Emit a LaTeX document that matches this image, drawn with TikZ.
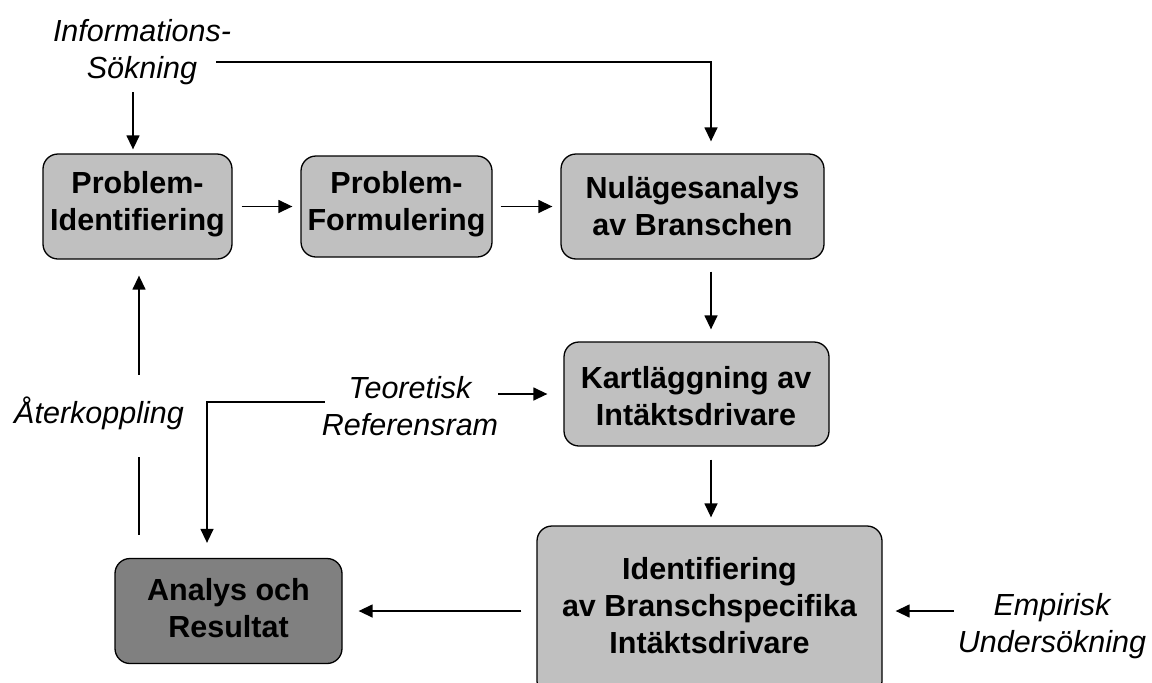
\documentclass[tikz,border=0pt]{standalone}
\usepackage{fontspec}
\setmainfont{Liberation Sans}
\usetikzlibrary{calc,arrows.meta}
\definecolor{boxgray}{HTML}{C0C0C0}
\definecolor{boxdark}{HTML}{808080}
\tikzset{
  box/.style={draw=black, line width=1.3pt, rounded corners=15pt, fill=boxgray, inner sep=0pt},
  boxtext/.style={align=center, inner sep=0pt, font=\fontsize{30.5}{37}\selectfont\bfseries},
  lbl/.style={align=center, inner sep=0pt, font=\fontsize{30.5}{37}\selectfont\itshape},
  arr/.style={line width=1.4pt, -{Triangle[length=14pt,width=13pt]}},
  ln/.style={line width=1.4pt},
}
\begin{document}
\begin{tikzpicture}[x=1pt,y=-1pt]
\useasboundingbox (0,0) rectangle (1152,683);
\fill[white] (0,0) rectangle (1152,683);
\clip (0,0) rectangle (1152,683);

% boxes
\node[box, minimum width=189pt, minimum height=105pt] (b1) at (137.5,206.5) {};
\node[box, minimum width=191pt, minimum height=101pt] (b2) at (396.5,206.5) {};
\node[box, minimum width=263pt, minimum height=105pt] (b3) at (692.5,206.5) {};
\node[box, minimum width=265pt, minimum height=104pt] (b4) at (696.5,394) {};
\node[box, minimum width=345pt, minimum height=170pt] (b5) at (709.5,611) {};
\node[box, fill=boxdark, minimum width=227pt, minimum height=105pt] (b6) at (228.5,611) {};

% box texts
\node[boxtext] (t1) at (137.5,204.1) {\strut Problem-\\\strut Identifiering};
\node[boxtext] (t2) at (396.5,205) {\strut Problem-\\\strut Formulering};
\node[boxtext] (t3) at (692.5,209.1) {\strut Nulägesanalys\\\strut av Branschen};
\node[boxtext] (t4) at (696,399.1) {\strut Kartläggning av\\\strut Intäktsdrivare};
\node[boxtext] (t5) at (709.5,608.6) {\strut Identifiering\\\strut av Branschspecifika\\\strut Intäktsdrivare};
\node[boxtext] (t6) at (228.5,611.1) {\strut Analys och\\\strut Resultat};

% labels
\node[lbl] (info) at (142,52.1) {\strut Informations-\\\strut Sökning};
\node[lbl] (teo) at (410,409.1) {\strut Teoretisk\\\strut Referensram};
\node[lbl] (ak) at (99,415.6) {\strut Återkoppling};
\node[lbl] (emp) at (1052,626.1) {\strut Empirisk\\\strut Undersökning};

% connectors
\draw[arr, shorten <=9pt, shorten >=8pt] (b1) -- (b2);
\draw[arr, shorten <=8pt, shorten >=8pt] (b2) -- (b3);
\draw[arr] ($(b3.south)+(18.5,12)$) -- ($(b4.north)+(14.5,-12)$);
\draw[arr] ($(b4.south)+(14.5,13)$) -- ($(b5.north)+(1.5,-8)$);
\draw[arr, shorten <=15pt, shorten >=16pt] (b5) -- (b6);
\draw[arr, shorten <=4pt, shorten >=13pt] (emp.west |- b5.east) -- (b5.east);
\draw[arr, shorten >=16pt] (teo.east |- b4.west) -- (b4.west);
\draw[arr] ($(teo.west)+(3,-7)$) -| ($(b6.north)+(-21.5,-15)$);
\draw[arr] ($(info.south)+(-9,3)$) -- ($(b1.north)+(-4.5,-4)$);
\draw[arr] ($(info.center)+(74,10)$) -| ($(b3.north)+(18.5,-12)$);
\draw[ln] ($(b6.north)+(-89.5,-23)$) -- ($(ak.south)+(40,22)$);
\draw[arr] ($(ak.north)+(40,-22)$) -- ($(b1.south)+(1.5,16)$);
\end{tikzpicture}
\end{document}
